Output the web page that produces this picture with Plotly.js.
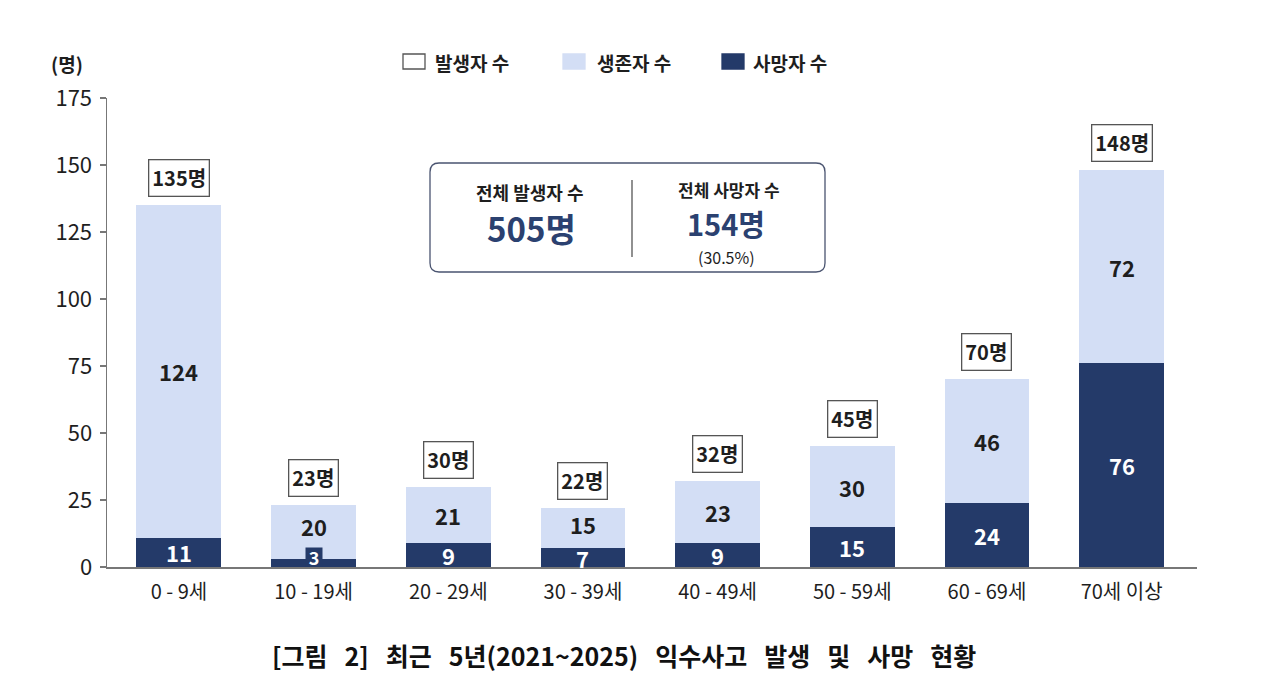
<!DOCTYPE html>
<html>
<head>
<meta charset="utf-8">
<script src="https://cdn.plot.ly/plotly-3.0.1.min.js"></script>
<style>
html,body{margin:0;padding:0;background:#fff;}
#chart{width:1274px;height:694px;}
</style>
</head>
<body>
<div id="chart"></div>
<script>
// ---- data ----
const categories = ['0 - 9세', '10 - 19세', '20 - 29세', '30 - 39세', '40 - 49세', '50 - 59세', '60 - 69세', '70세 이상'];
const deaths = [11, 3, 9, 7, 9, 15, 24, 76];
const survivors = [124, 20, 21, 15, 23, 30, 46, 72];
const totals = [135, 23, 30, 22, 32, 45, 70, 148];
const seriesNames = ['발생자 수', '생존자 수', '사망자 수'];
const totalAll = 505;
const deathAll = 154;
const deathRate = '30.5%';
const yTicks = [0, 25, 50, 75, 100, 125, 150, 175];
const captionText = '[그림 2] 최근 5년(2021~2025) 익수사고 발생 및 사망 현황';

// ---- style ----
const FONT = '"Noto Sans CJK KR", "Noto Sans", sans-serif';
const LIGHT = '#d3def5';
const DARK = '#243a69';
const NAVY = '#2b4170';
const TXT = '#1e1e1e';

// plot area in pixels (for paper coordinate conversion)
const L = 107, R = 1197, T = 98, B = 567;
const px = x => (x - L) / (R - L);
const py = y => (B - y) / (B - T);

const traces = [
  {
    type: 'bar', name: seriesNames[2], x: categories, y: deaths,
    marker: {color: DARK}, width: 0.63, hoverinfo: 'x+y'
  },
  {
    type: 'bar', name: seriesNames[1], x: categories, y: survivors,
    marker: {color: LIGHT}, width: 0.63, hoverinfo: 'x+y'
  }
];

const annotations = [];
const shapes = [];

// segment labels
categories.forEach((c, i) => {
  const tiny = deaths[i] < 5;
  const short = deaths[i] < 8;
  const dl = {
    x: c, y: deaths[i] / 2, xref: 'x', yref: 'y', text: String(deaths[i]),
    xanchor: 'center', yanchor: 'middle',
    showarrow: false, font: {family: FONT, size: tiny ? 18 : 22, color: '#ffffff', weight: 'bold'},
    yshift: tiny ? 6 : 0
  };
  if (tiny) { dl.bgcolor = DARK; dl.borderpad = 1; dl.height = 16; dl.width = 14; }
  annotations.push(dl);
  annotations.push({
    x: c, y: deaths[i] + survivors[i] / 2, xref: 'x', yref: 'y', text: String(survivors[i]),
    xanchor: 'center', yanchor: 'middle',
    showarrow: false, font: {family: FONT, size: 22, color: TXT, weight: 'bold'},
    yshift: tiny ? 6 : (short ? 4 : 0)
  });
  annotations.push({
    x: c, y: totals[i], xref: 'x', yref: 'y', text: totals[i] + '명',
    xanchor: 'center', yanchor: 'middle',
    showarrow: false, yshift: 27,
    font: {family: FONT, size: 20, color: TXT, weight: 'bold'},
    bordercolor: '#555', borderwidth: 1.3, borderpad: 3, bgcolor: '#fff'
  });
});

// unit label
annotations.push({
  x: px(49), y: py(64), xref: 'paper', yref: 'paper', xanchor: 'left', yanchor: 'middle',
  text: '(명)', showarrow: false, font: {family: FONT, size: 19, color: TXT, weight: 'bold'}
});

// custom legend
const legendItems = [
  {x0: 403, label: seriesNames[0], fill: '#ffffff', line: '#555', tx: 433},
  {x0: 563, label: seriesNames[1], fill: LIGHT, line: LIGHT, tx: 595},
  {x0: 722, label: seriesNames[2], fill: DARK, line: DARK, tx: 751}
];
legendItems.forEach(it => {
  shapes.push({
    type: 'rect', xref: 'paper', yref: 'paper',
    x0: px(it.x0), x1: px(it.x0 + 22), y0: py(69), y1: py(54),
    fillcolor: it.fill, line: {color: it.line, width: 1.3}
  });
  annotations.push({
    x: px(it.tx), y: py(62), xref: 'paper', yref: 'paper', xanchor: 'left', yanchor: 'middle',
    text: it.label, showarrow: false, font: {family: FONT, size: 19, color: TXT, weight: 'bold'}
  });
});

// info box (rounded rectangle)
(function () {
  const x0 = px(430), x1 = px(825), y0 = py(272), y1 = py(163);
  const rx = 9 / (R - L), ry = 9 / (B - T);
  const path = `M ${x0 + rx} ${y1} L ${x1 - rx} ${y1} Q ${x1} ${y1} ${x1} ${y1 - ry} ` +
    `L ${x1} ${y0 + ry} Q ${x1} ${y0} ${x1 - rx} ${y0} L ${x0 + rx} ${y0} Q ${x0} ${y0} ${x0} ${y0 + ry} ` +
    `L ${x0} ${y1 - ry} Q ${x0} ${y1} ${x0 + rx} ${y1} Z`;
  shapes.push({type: 'path', xref: 'paper', yref: 'paper', path: path,
    fillcolor: '#ffffff', line: {color: '#4a5470', width: 1.3}});
  shapes.push({type: 'line', xref: 'paper', yref: 'paper',
    x0: px(632), x1: px(632), y0: py(257), y1: py(180), line: {color: '#555', width: 1.3}});
})();
const boxText = (x, y, text, size, color, weight) => ({
  x: px(x), y: py(y), xref: 'paper', yref: 'paper', xanchor: 'center', yanchor: 'middle',
  text: text, showarrow: false, font: {family: FONT, size: size, color: color, weight: weight}
});
annotations.push(
  boxText(530, 192, '전체 발생자 수', 18, TXT, 'bold'),
  boxText(531, 228, totalAll + '명', 33, NAVY, 'bold'),
  boxText(729, 190, '전체 사망자 수', 17, TXT, 'bold'),
  boxText(726, 223, deathAll + '명', 29, NAVY, 'bold'),
  boxText(726, 257, '(' + deathRate + ')', 16, TXT, 'normal')
);

// caption (wider word spacing like the reference)
annotations.push({
  x: px(624), y: py(655), xref: 'paper', yref: 'paper', xanchor: 'center', yanchor: 'middle',
  text: captionText.split(' ').join('\u00a0\u00a0\u00a0'), showarrow: false,
  font: {family: FONT, size: 25, color: '#111', weight: 'bold'}
});

const layout = {
  width: 1274, height: 694,
  margin: {l: L, r: 1274 - R, t: T, b: 694 - B},
  paper_bgcolor: '#ffffff', plot_bgcolor: '#ffffff',
  barmode: 'stack', showlegend: false,
  font: {family: FONT, color: TXT},
  xaxis: {
    type: 'category', categoryorder: 'array', categoryarray: categories,
    range: [-0.534, 7.56], showgrid: false, zeroline: false,
    showline: true, linecolor: '#777', linewidth: 1.5, ticks: '',
    ticklabelstandoff: 6,
    tickfont: {family: FONT, size: 20, color: TXT}, fixedrange: true
  },
  yaxis: {
    range: [0, 175], tickvals: yTicks, showgrid: false, zeroline: false,
    showline: true, linecolor: '#777', linewidth: 1.5,
    ticks: 'outside', ticklen: 6, tickcolor: '#777', tickwidth: 1.3,
    ticklabelstandoff: 3,
    tickfont: {family: FONT, size: 22, color: TXT}, fixedrange: true
  },
  annotations: annotations, shapes: shapes
};

Plotly.newPlot('chart', traces, layout, {displayModeBar: false, staticPlot: true});
</script>
</body>
</html>
